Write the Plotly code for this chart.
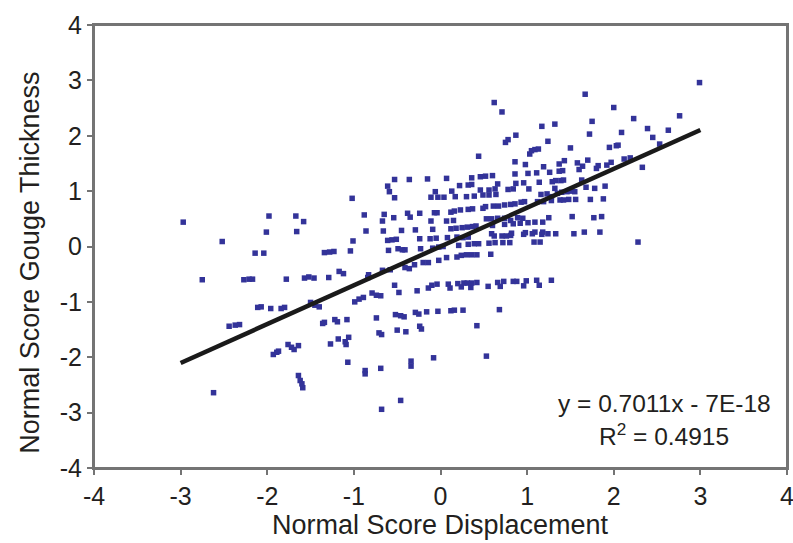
import plotly.graph_objects as go

# Normal score displacement (x) / normal score gouge thickness (y)
xa = [-2.97,-1.98,-1.67,-1.58,-2.01,-1.66,-2.52,-2.14,-2.04,-1.34,-1.28,-1.23,-2.75,-2.27,-2.21,-2.17,-1.78,-1.57,-1.52,-1.46,
      -1.29,-1.17,-1.12,-2.11,-2.07,-1.96,-1.84,-1.80,-1.50,-1.45,-1.40,-2.44,-2.37,-2.32,-1.36,-1.34,-1.22,-1.19,-1.93,-1.89,
      -1.87,-1.76,-1.72,-1.69,-1.64,-1.27,-1.18,-1.64,-1.62,-1.60,-1.59,-2.62]
ya = [0.44,0.55,0.55,0.45,0.26,0.27,0.09,-0.12,-0.12,-0.11,-0.10,-0.09,-0.60,-0.60,-0.59,-0.59,-0.59,-0.57,-0.55,-0.57,
      -0.56,-0.45,-0.49,-1.10,-1.09,-1.12,-1.12,-1.10,-1.01,-1.06,-1.09,-1.44,-1.42,-1.41,-1.39,-1.37,-1.32,-1.36,-1.95,-1.91,
      -1.89,-1.77,-1.82,-1.86,-1.79,-1.76,-1.67,-2.33,-2.42,-2.48,-2.55,-2.64]

xb = [-1.02,-0.88,-0.86,-1.01,-1.04,-1.08,-1.10,-1.09,-1.06,-1.07,
      -0.53,-0.36,-0.15,0.07,-0.61,-0.59,-0.53,-0.06,-0.11,-0.03,
      0.04,0.13,-0.65,-0.67,-0.54,-0.38,-0.35,-0.24,-0.07,-0.04,
      0.12,-0.11,0.07,0.15,-0.66,-0.45,-0.29,-0.09,0.12,-0.61,
      -0.56,-0.51,-0.24,-0.12,-0.05,0.08,-0.60,-0.49,-0.44,-0.41,
      -0.23,-0.09,-0.02,0.03,-0.67,-0.58,-0.41,-0.36,-0.30,-0.20,
      -0.14,-0.02,0.07,-0.83,-0.84,-0.99,-0.94,-0.89,-0.79,-0.74,
      -0.69,-0.53,-0.48,-0.27,-0.14,-0.10,-0.04,0.09,0.11,-0.74,
      -0.52,-0.46,-0.42,-0.29,-0.25,-0.16,-0.03,0.12,-0.71,-0.68,
      -0.50,-0.40,-0.24,-0.22,-0.87,-0.87,-0.69,-0.34,-0.34,-0.08,
      -0.46,-0.68]
yb = [0.87,0.57,0.28,0.10,-0.08,-1.32,-1.72,-1.77,-1.64,-2.09,
      1.21,1.21,1.22,1.23,1.09,0.99,0.88,0.99,0.89,0.89,
      0.89,1.00,0.58,0.46,0.52,0.60,0.53,0.60,0.61,0.61,
      0.62,0.46,0.46,0.47,0.28,0.29,0.30,0.31,0.32,0.11,
      0.12,0.13,0.14,0.14,0.15,0.16,-0.07,-0.04,-0.06,-0.06,
      -0.04,-0.03,-0.01,0.00,-0.43,-0.42,-0.38,-0.40,-0.33,-0.29,
      -0.29,-0.25,-0.20,-0.51,-0.56,-1.00,-0.95,-0.92,-0.84,-0.88,
      -0.89,-0.70,-0.83,-0.80,-0.75,-0.70,-0.68,-0.68,-0.75,-1.29,
      -1.23,-1.25,-1.27,-1.19,-1.22,-1.18,-1.17,-1.16,-1.56,-1.59,
      -1.51,-1.54,-1.44,-1.49,-2.24,-2.30,-2.20,-2.07,-2.16,-2.01,
      -2.78,-2.94]

xc = [0.44,0.62,0.71,0.87,0.75,0.78,0.36,0.46,0.52,0.60,
      0.22,0.32,0.36,0.66,0.17,0.30,0.39,0.46,0.49,0.56,
      0.56,0.63,0.64,0.78,0.84,1.02,0.86,0.98,0.86,1.01,
      0.96,0.87,0.16,0.23,0.32,0.37,0.49,0.52,0.61,0.67,
      0.74,0.81,0.86,0.93,0.97,0.53,0.59,0.66,0.74,0.81,
      0.89,0.95,0.60,0.74,0.84,0.92,1.01,0.18,0.25,0.31,
      0.37,0.41,0.59,0.62,0.71,0.76,0.81,0.82,0.96,0.98,
      0.19,0.26,0.32,0.21,0.32,0.39,0.44,0.56,0.63,0.72,
      0.80,0.19,0.24,0.30,0.36,0.42,0.58,0.20,0.24,0.27,
      0.31,0.35,0.36,0.42,0.55,0.66,0.69,0.73,0.84,0.88,
      0.96,0.99,0.16,0.26,0.68,0.42,0.53]
yc = [1.63,2.60,2.43,2.01,1.88,1.93,1.24,1.26,1.27,1.28,
      1.10,1.11,1.12,1.13,0.90,0.90,0.91,1.02,0.93,1.02,
      0.93,1.04,0.94,1.03,1.04,1.04,1.53,1.48,1.31,1.32,
      1.15,1.14,0.64,0.66,0.67,0.68,0.69,0.72,0.73,0.73,
      0.75,0.76,0.77,0.80,0.81,0.50,0.50,0.51,0.51,0.47,
      0.52,0.51,0.38,0.40,0.41,0.42,0.43,0.33,0.34,0.35,
      0.36,0.37,0.23,0.19,0.19,0.19,0.20,0.24,0.22,0.25,
      0.17,0.16,0.17,0.02,0.04,0.05,0.05,0.06,0.07,0.07,
      0.07,-0.19,-0.16,-0.15,-0.15,-0.15,-0.14,-0.67,-0.73,-0.66,
      -0.66,-0.74,-0.66,-0.65,-0.72,-0.65,-0.72,-0.63,-0.63,-0.63,
      -0.71,-0.62,-1.15,-1.15,-1.14,-1.43,-1.98]

xd = [1.67,2.00,2.23,1.17,1.32,1.75,1.72,2.09,2.39,2.45,
      2.53,2.63,2.76,2.99,1.24,1.50,1.95,2.03,2.05,1.03,
      1.05,1.09,1.13,1.19,1.37,1.43,1.58,1.64,1.70,1.60,
      1.82,1.80,1.92,1.97,2.12,2.19,2.33,1.11,1.26,1.37,
      1.41,1.14,1.29,1.33,1.39,1.42,1.63,1.32,1.68,1.78,
      1.90,1.16,1.23,1.28,1.35,1.40,1.46,1.50,1.55,1.12,
      1.19,1.28,1.38,1.42,1.48,1.56,1.73,1.88,1.25,1.52,
      1.77,1.86,1.09,1.18,1.06,1.09,1.17,1.18,1.24,1.33,
      1.54,1.66,1.84,1.08,1.15,2.28,1.11,1.14,1.28]
yd = [2.75,2.51,2.31,2.17,2.21,2.26,2.03,2.06,2.13,1.97,
      1.85,2.10,2.36,2.96,1.90,1.78,1.79,1.82,1.83,1.67,
      1.73,1.75,1.76,1.44,1.49,1.55,1.51,1.45,1.56,1.39,
      1.46,1.41,1.47,1.52,1.58,1.60,1.43,1.33,1.34,1.36,
      1.37,1.16,1.17,1.19,1.19,1.20,1.20,1.05,1.07,1.05,
      1.09,0.94,0.95,0.90,0.96,0.98,0.99,1.00,0.99,0.81,
      0.81,0.83,0.84,0.84,0.85,0.85,0.85,0.86,0.52,0.54,
      0.52,0.54,0.44,0.44,0.23,0.26,0.22,0.26,0.23,0.23,
      0.23,0.26,0.26,0.08,0.08,0.08,-0.61,-0.70,-0.61]

for gx, gy in [(xa, ya), (xb, yb), (xc, yc), (xd, yd)]:
    assert len(gx) == len(gy)

x_disp = xa + xb + xc + xd
y_thick = ya + yb + yc + yd

# Linear trendline as reported on the chart
slope = 0.7011
intercept = -7e-18
trend_x = [-3.0, 3.0]
trend_y = [slope * v + intercept for v in trend_x]

axis_ticks = [-4, -3, -2, -1, 0, 1, 2, 3, 4]
x_title = "Normal Score Displacement"
y_title = "Normal Score Gouge Thickness"
eq_text = "y = 0.7011x - 7E-18"
r2_text = "R<sup>2</sup> = 0.4915"

FONT = "Liberation Sans, Arial, sans-serif"
TXT = "#231f20"
AX = "#747474"

fig = go.Figure()
fig.add_trace(go.Scatter(
    x=x_disp, y=y_thick, mode="markers",
    marker=dict(symbol="square", size=5.5, color="#333399", line=dict(width=0)),
    showlegend=False, hoverinfo="x+y"))
fig.add_trace(go.Scatter(
    x=trend_x, y=trend_y, mode="lines",
    line=dict(color="#1a1a1a", width=4.5), showlegend=False))

axis_common = dict(
    range=[-4, 4], tickvals=axis_ticks, ticktext=[str(v) for v in axis_ticks],
    showgrid=False, zeroline=False, showline=True, linecolor=AX, linewidth=2,
    mirror=True, ticks="outside", ticklen=5, tickcolor=AX, tickwidth=1.5,
    automargin=False, ticklabeloverflow="allow",
    tickfont=dict(family=FONT, size=25, color=TXT))

fig.update_layout(
    width=793, height=543,
    margin=dict(l=94, r=6, t=25, b=75),
    paper_bgcolor="white", plot_bgcolor="white",
    xaxis=dict(**axis_common),
    yaxis=dict(**axis_common),
    shapes=[dict(type="rect", xref="paper", yref="paper", x0=0, y0=0, x1=1, y1=1,
                 line=dict(color=AX, width=2), fillcolor="rgba(0,0,0,0)", layer="above")],
    annotations=[
        dict(text=x_title, xref="paper", yref="paper", x=0.5, y=-0.128,
             xanchor="center", yanchor="middle", showarrow=False,
             font=dict(family=FONT, size=27, color=TXT)),
        dict(text=y_title, xref="paper", yref="paper", x=-0.092, y=0.464,
             xanchor="center", yanchor="middle", showarrow=False, textangle=-90,
             font=dict(family=FONT, size=27, color=TXT)),
        dict(text=eq_text, xref="paper", yref="paper", x=0.823, y=0.146,
             xanchor="center", yanchor="middle", showarrow=False,
             font=dict(family=FONT, size=24.5, color=TXT)),
        dict(text=r2_text, xref="paper", yref="paper", x=0.823, y=0.075,
             xanchor="center", yanchor="middle", showarrow=False,
             font=dict(family=FONT, size=24.5, color=TXT)),
    ],
)

# remove the default page margin so the 793x543 figure fills the window exactly
fig.write_html(
    "out.html",
    config={"displayModeBar": False},
    post_script="document.body.style.margin='0';document.body.style.overflow='hidden';",
)
